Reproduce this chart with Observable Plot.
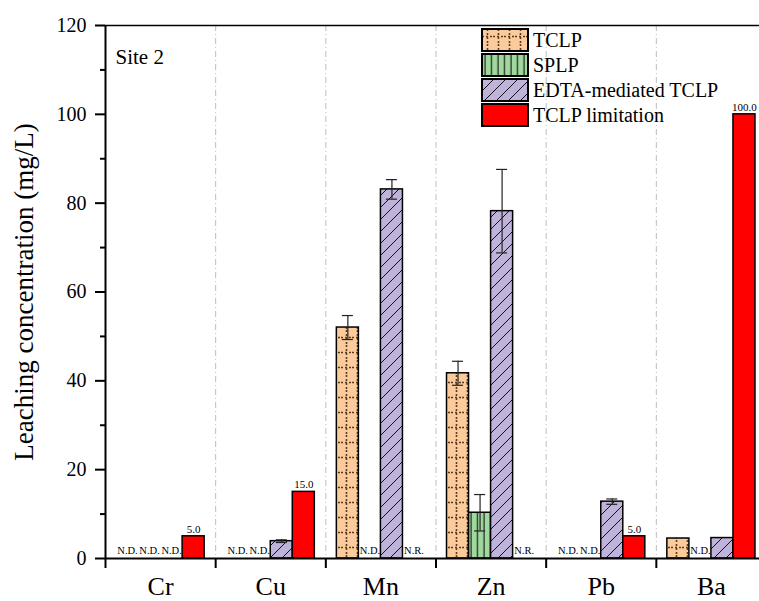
<!DOCTYPE html>
<html><head><meta charset="utf-8">
<script src="https://cdn.jsdelivr.net/npm/d3@7"></script>
<script src="https://cdn.jsdelivr.net/npm/@observablehq/plot@0.6"></script>
<style>html,body{margin:0;padding:0;overflow:hidden;background:#fff;} #chart svg{max-width:none !important;}</style>
</head><body>
<svg width="0" height="0" style="position:absolute"><defs>
  <pattern id="pTCLP" patternUnits="userSpaceOnUse" width="11" height="15">
    <rect width="11" height="15" fill="#FBCB9B"/>
    <line x1="5.5" y1="0" x2="5.5" y2="15" stroke="#5a3c20" stroke-width="1.6" stroke-dasharray="2,2"/>
    <line x1="0" y1="7.5" x2="11" y2="7.5" stroke="#5a3c20" stroke-width="1.6" stroke-dasharray="2,2"/>
  </pattern>
  <pattern id="pSPLP" patternUnits="userSpaceOnUse" width="6.5" height="10">
    <rect width="6.5" height="10" fill="#A0D89E"/>
    <line x1="3" y1="0" x2="3" y2="10" stroke="#000" stroke-width="1"/>
  </pattern>
  <pattern id="pEDTA" patternUnits="userSpaceOnUse" width="12" height="12">
    <rect width="12" height="12" fill="#BFB3D9"/>
    <path d="M0,12 L12,0 M-3,3 L3,-3 M9,15 L15,9" stroke="#111" stroke-width="1"/>
  </pattern>
</defs></svg>
<div id="chart"></div>
<script>
const categories = ["Cr", "Cu", "Mn", "Zn", "Pb", "Ba"];
const seriesNames = ["TCLP", "SPLP", "EDTA-mediated TCLP", "TCLP limitation"];
const tclp      = [null, null, 52.0, 41.7, null, 4.5];
const tclpErr   = [0, 0, 2.7, 2.7, 0, 0];
const splp      = [null, null, null, 10.3, null, null];
const splpErr   = [0, 0, 0, 4.1, 0, 0];
const edta      = [null, 3.9, 83.1, 78.2, 12.8, 4.6];
const edtaErr   = [0, 0.3, 2.2, 9.4, 0.6, 0];
const limit     = [5.0, 15.0, null, null, 5.0, 100.0];
const tclpMissing  = ["N.D.", "N.D.", null, null, "N.D.", null];
const splpMissing  = ["N.D.", "N.D.", "N.D.", null, "N.D.", "N.D."];
const edtaMissing  = ["N.D.", null, null, null, null, null];
const limitMissing = [null, null, "N.R.", "N.R.", null, null];
const yTicks = [0, 20, 40, 60, 80, 100, 120];
const yLabel = "Leaching concentration (mg/L)";
const siteLabel = "Site 2";

const fills = ["url(#pTCLP)", "url(#pSPLP)", "url(#pEDTA)", "#FF0000"];
const vals = [tclp, splp, edta, limit];
const errs = [tclpErr, splpErr, edtaErr, null];
const miss = [tclpMissing, splpMissing, edtaMissing, limitMissing];

const rows = [];
categories.forEach((c, i) => {
  seriesNames.forEach((s, j) => {
    const x1 = i + 0.1 + j * 0.2;
    rows.push({cat: c, series: s, j, x1, x2: x1 + 0.2, xc: x1 + 0.1,
      value: vals[j][i], err: errs[j] ? errs[j][i] : 0, missing: miss[j][i]});
  });
});
const present = rows.filter(d => d.value != null);
const withErr = present.filter(d => d.err > 0);
const missing = rows.filter(d => d.missing);
const limits = present.filter(d => d.j === 3);

const marks = [
  Plot.ruleX([1, 2, 3, 4, 5], {stroke: "#bdbdbd", strokeWidth: 1, strokeDasharray: "6,3,1,3"}),
  ...seriesNames.map((s, j) => Plot.rectY(present.filter(d => d.j === j),
      {x1: "x1", x2: "x2", y: "value", fill: fills[j], stroke: "#000", strokeWidth: 1.5})),
  Plot.ruleX(withErr, {x: "xc", y1: d => d.value - d.err, y2: d => d.value + d.err, stroke: "#222", strokeWidth: 1.2}),
  Plot.ruleY(withErr, {y: d => d.value + d.err, x1: d => d.xc - 0.05, x2: d => d.xc + 0.05, stroke: "#222", strokeWidth: 1.2}),
  Plot.ruleY(withErr, {y: d => d.value - d.err, x1: d => d.xc - 0.05, x2: d => d.xc + 0.05, stroke: "#222", strokeWidth: 1.2}),
  Plot.text(limits, {x: "xc", y: "value", text: d => d.value.toFixed(1), dy: -7, fontSize: 11}),
  Plot.text(missing, {x: "xc", y: 0, text: "missing", dy: -7.5, fontSize: 10.5}),
  Plot.ruleX([0], {stroke: "#000", strokeWidth: 2}),
  Plot.ruleX([6], {stroke: "#000", strokeWidth: 2}),
  Plot.ruleY([0], {stroke: "#000", strokeWidth: 2}),
  Plot.ruleY([120], {stroke: "#000", strokeWidth: 1.5}),
  Plot.axisY({ticks: yTicks, tickSize: 10, tickPadding: 9, fontSize: 20, strokeWidth: 2, label: null}),
  Plot.axisY({ticks: yTicks.slice(0, -1).map(t => t + 10), tickSize: 5, tickFormat: () => "", strokeWidth: 2, label: null}),
  Plot.axisX({ticks: d3.range(0, categories.length + 1), tickSize: 10, tickFormat: () => "", strokeWidth: 2, label: null}),
  Plot.axisX({ticks: categories.map((c, i) => i + 0.5), tickSize: 0, tickPadding: 18, fontSize: 26,
      tickFormat: d => categories[Math.floor(d)], label: null}),
  Plot.text([yLabel], {frameAnchor: "left", textAnchor: "middle", rotate: -90, dx: -81, fontSize: 27, text: d => d}),
  Plot.text([siteLabel], {frameAnchor: "top-left", dx: 10, dy: 24, fontSize: 21, textAnchor: "start", text: d => d})
];

const chart = Plot.plot({
  width: 770, height: 601,
  marginLeft: 105, marginRight: 4, marginTop: 25, marginBottom: 43,
  x: {domain: [0, categories.length], axis: null},
  y: {domain: [0, 120], axis: null},
  style: {fontFamily: '"Liberation Serif", "Times New Roman", serif', color: "#000", background: "#fff", overflow: "visible"},
  marks
});
chart.style.maxWidth = "none";
document.getElementById("chart").appendChild(chart);

// legend
const svg = d3.select(chart);
const lg = svg.append("g").attr("transform", "translate(482,29)")
  .attr("text-anchor", "start")
  .style("font-family", '"Liberation Serif", "Times New Roman", serif');
seriesNames.forEach((s, j) => {
  const g = lg.append("g").attr("transform", `translate(0,${j * 25})`);
  g.append("rect").attr("width", 46).attr("height", 22).attr("fill", fills[j]).attr("stroke", "#000").attr("stroke-width", 2);
  g.append("text").attr("x", 51).attr("y", 18).attr("font-size", 20).attr("fill", "#000").text(s);
});
</script>
</body></html>
